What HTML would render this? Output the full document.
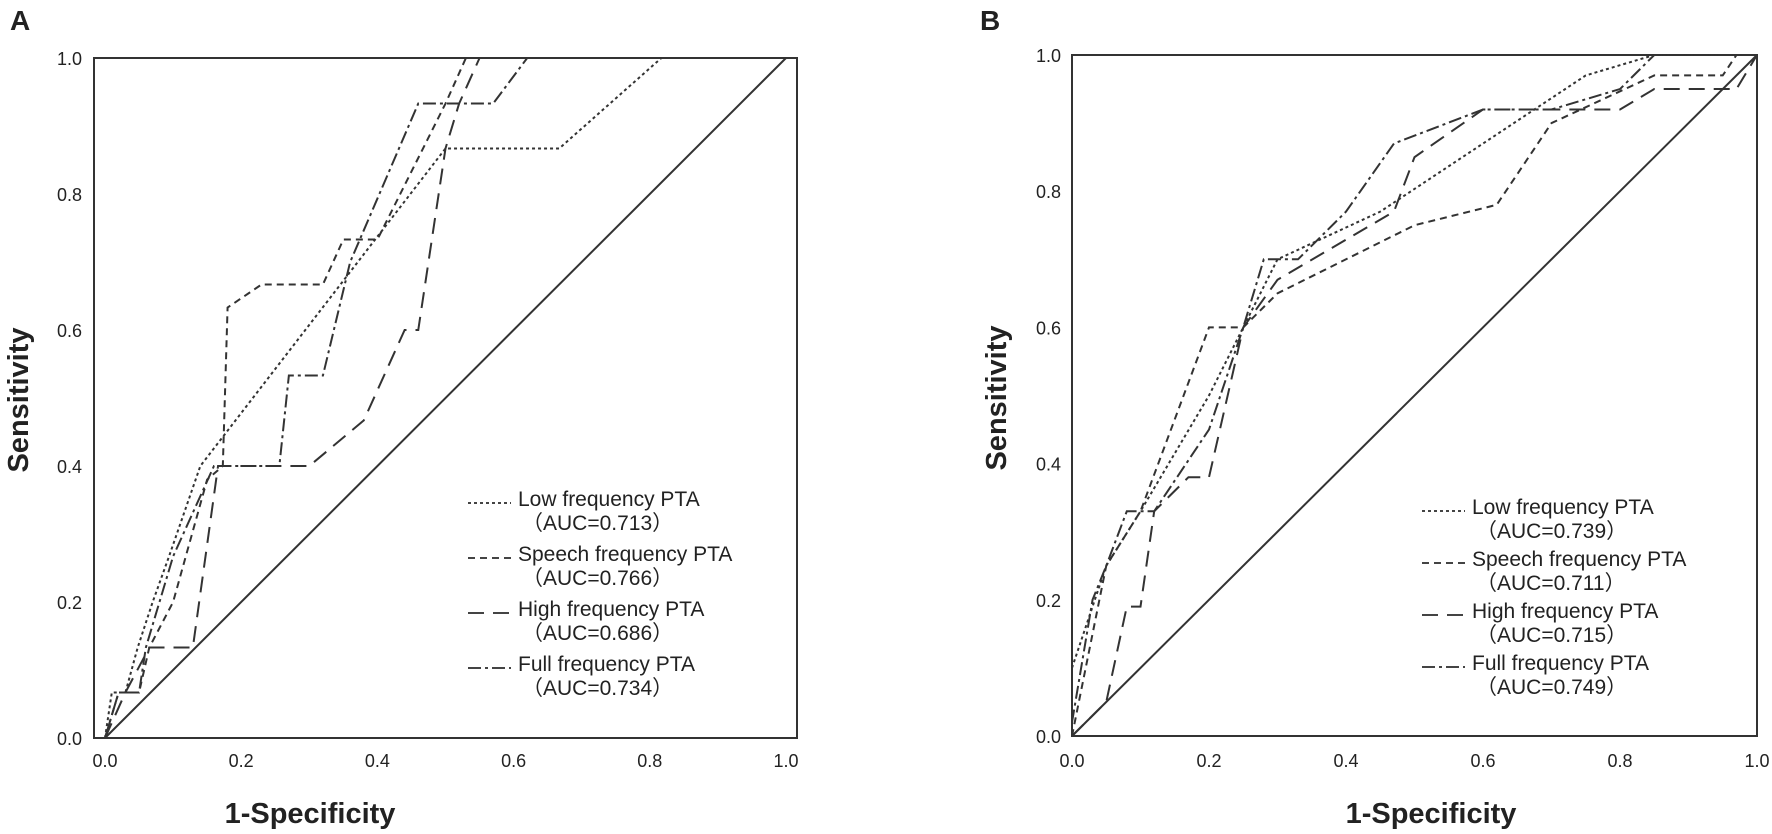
<!DOCTYPE html>
<html><head><meta charset="utf-8"><style>
html,body{margin:0;padding:0;background:#fff;}
svg{display:block;}
text{font-family:"Liberation Sans","Noto Sans CJK SC",sans-serif;fill:#222;}
</style></head><body>
<svg id="s" width="1772" height="834" viewBox="0 0 1772 834" xmlns="http://www.w3.org/2000/svg">
<rect width="1772" height="834" fill="#fff"/>
<text x="10" y="30" font-size="28" font-weight="bold">A</text>
<text x="980" y="30" font-size="28" font-weight="bold">B</text>
<rect x="94" y="58" width="703" height="680" fill="none" stroke="#333" stroke-width="2"/>
<line x1="105" y1="738" x2="786" y2="58" stroke="#333" stroke-width="2"/>
<rect x="1072" y="55" width="685" height="681" fill="none" stroke="#333" stroke-width="2"/>
<line x1="1072" y1="736" x2="1757" y2="55" stroke="#333" stroke-width="2"/>
<g id="g"></g>
<text transform="translate(28,400) rotate(-90)" font-size="29" font-weight="bold" text-anchor="middle">Sensitivity</text>
<text transform="translate(1006,398) rotate(-90)" font-size="29" font-weight="bold" text-anchor="middle">Sensitivity</text>
<text x="310" y="823" font-size="29" font-weight="bold" text-anchor="middle">1-Specificity</text>
<text x="1431" y="823" font-size="29" font-weight="bold" text-anchor="middle">1-Specificity</text>
</svg>
<script>
var NS="http://www.w3.org/2000/svg",g=document.getElementById('g');
function el(t,a,txt){var e=document.createElementNS(NS,t);for(var k in a)e.setAttribute(k,a[k]);if(txt)e.textContent=txt;g.appendChild(e);return e;}
var dashes=["3 3","7 5","16 9","13 4 3 4"];
var PA={x:function(v){return 105+681*v},y:function(v){return 738-680*v}};
var PB={x:function(v){return 1072+685*v},y:function(v){return 736-681*v}};
[0,0.2,0.4,0.6,0.8,1.0].forEach(function(v){
 el('text',{x:PA.x(v),y:767,'font-size':18,'text-anchor':'middle'},v.toFixed(1));
 el('text',{x:82,y:PA.y(v)+7,'font-size':18,'text-anchor':'end'},v.toFixed(1));
 el('text',{x:PB.x(v),y:767,'font-size':18,'text-anchor':'middle'},v.toFixed(1));
 el('text',{x:1061,y:PB.y(v)+7,'font-size':18,'text-anchor':'end'},v.toFixed(1));
});
var A=[
 [[0,0],[0.01,0.067],[0.03,0.067],[0.048,0.133],[0.07,0.2],[0.094,0.267],[0.14,0.4],[0.5,0.867],[0.667,0.867],[0.817,1]],
 [[0,0],[0.02,0.067],[0.05,0.067],[0.065,0.133],[0.1,0.2],[0.15,0.38],[0.173,0.4],[0.18,0.633],[0.23,0.667],[0.32,0.667],[0.35,0.733],[0.4,0.733],[0.5,0.933],[0.53,1]],
 [[0,0],[0.03,0.067],[0.065,0.133],[0.129,0.133],[0.166,0.4],[0.3,0.4],[0.38,0.467],[0.44,0.6],[0.46,0.6],[0.5,0.867],[0.52,0.933],[0.55,1]],
 [[0,0],[0.02,0.067],[0.05,0.067],[0.06,0.133],[0.1,0.267],[0.16,0.4],[0.256,0.4],[0.27,0.533],[0.32,0.533],[0.36,0.7],[0.46,0.933],[0.57,0.933],[0.62,1]]
];
var B=[
 [[0,0.1],[0.05,0.25],[0.1,0.33],[0.2,0.5],[0.3,0.7],[0.45,0.77],[0.6,0.87],[0.75,0.97],[0.85,1],[1,1]],
 [[0,0],[0.02,0.1],[0.05,0.25],[0.1,0.33],[0.2,0.6],[0.25,0.6],[0.3,0.65],[0.5,0.75],[0.62,0.78],[0.7,0.9],[0.85,0.97],[0.95,0.97],[0.97,1],[1,1]],
 [[0,0],[0.05,0.05],[0.08,0.19],[0.1,0.19],[0.12,0.33],[0.17,0.38],[0.2,0.38],[0.25,0.6],[0.3,0.67],[0.47,0.77],[0.5,0.85],[0.6,0.92],[0.8,0.92],[0.85,0.95],[0.97,0.95],[1,1]],
 [[0,0.02],[0.03,0.2],[0.05,0.25],[0.08,0.33],[0.12,0.33],[0.2,0.45],[0.25,0.6],[0.28,0.7],[0.33,0.7],[0.4,0.77],[0.47,0.87],[0.6,0.92],[0.7,0.92],[0.8,0.95],[0.85,1],[1,1]]
];
function draw(P,D){D.forEach(function(c,i){el('polyline',{points:c.map(function(p){return P.x(p[0])+','+P.y(p[1])}).join(' '),fill:'none',stroke:'#333','stroke-width':2,'stroke-dasharray':dashes[i]});});}
draw(PA,A);draw(PB,B);
var names=["Low frequency PTA","Speech frequency PTA","High frequency PTA","Full frequency PTA"];
function legend(x0,y0,step,aucs){names.forEach(function(n,i){var y=y0+i*step;
 el('line',{x1:x0,y1:y-3,x2:x0+43,y2:y-3,stroke:'#444','stroke-width':2,'stroke-dasharray':dashes[i]});
 el('text',{x:x0+50,y:y,'font-size':21},n);
 el('text',{x:x0+54,y:y+24,'font-size':21},'（AUC='+aucs[i]+'）');});}
legend(468,506,55,["0.713","0.766","0.686","0.734"]);
legend(1422,514,52,["0.739","0.711","0.715","0.749"]);
</script>
</body></html>
